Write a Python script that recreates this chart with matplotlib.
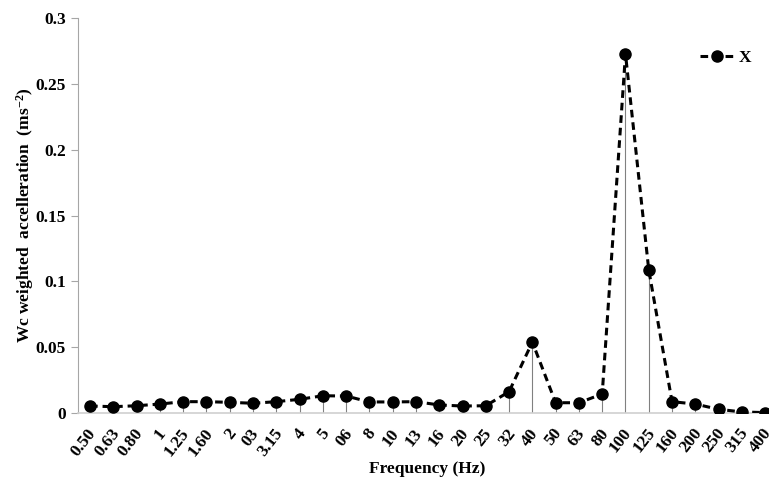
import numpy as np
import matplotlib.pyplot as plt
from matplotlib.transforms import ScaledTranslation

plt.rcParams['font.family'] = ['Liberation Serif', 'DejaVu Serif']
plt.rcParams['font.weight'] = 'bold'
plt.rcParams['mathtext.fontset'] = 'custom'
plt.rcParams['mathtext.rm'] = 'Liberation Serif:bold'
plt.rcParams['mathtext.bf'] = 'Liberation Serif:bold'
plt.rcParams['mathtext.default'] = 'bf'

freq_labels = ['0.50', '0.63', '0.80', '1', '1.25', '1.60', '2', '03', '3.15', '4',
               '5', '06', '8', '10', '13', '16', '20', '25', '32', '40',
               '50', '63', '80', '100', '125', '160', '200', '250', '315', '400']
accel_x = [0.0053, 0.0048, 0.0055, 0.0068, 0.0086, 0.0086, 0.0081, 0.0074, 0.0086, 0.0104,
           0.0131, 0.0129, 0.0084, 0.0084, 0.0086, 0.0061, 0.0053, 0.0055, 0.0162, 0.0539,
           0.0078, 0.0078, 0.0144, 0.2727, 0.1086, 0.0086, 0.0068, 0.0028, 0.0008, 0.0003]

x = np.arange(len(freq_labels))

fig = plt.figure(figsize=(7.69, 4.87), dpi=100)
ax = fig.add_axes([78.4 / 769, 74 / 487, 698.4 / 769, 395 / 487])

# drop lines down to the axis
ax.vlines(x, 0, accel_x, color='#808080', linewidth=0.8, zorder=1)

ax.plot(x, accel_x, color='black', linestyle=(0, (2.5, 1.6)), linewidth=2.2,
        marker='o', markersize=8, label='X', zorder=3)

ax.set_xlim(-0.5, len(freq_labels) - 0.5)
ax.set_ylim(0, 0.3)
ax.set_yticks([0, 0.05, 0.1, 0.15, 0.2, 0.25, 0.3])
ax.set_yticklabels(['0', '0.05', '0.1', '0.15', '0.2', '0.25', '0.3'], fontsize=12.5)
ax.set_xticks(x)
ax.set_xticklabels(freq_labels, rotation=52, ha='right', rotation_mode='anchor', fontsize=12.5)
ax.tick_params(axis='x', length=0, pad=9)
ax.tick_params(axis='y', length=5, color='#a6a6a6', width=0.8, pad=4)

# nudge the rotated labels a little left so the last one stays inside
shift = ScaledTranslation(-3 / 100, 0, fig.dpi_scale_trans)
for lbl in ax.get_xticklabels():
    lbl.set_transform(lbl.get_transform() + shift)

for side in ['top', 'right']:
    ax.spines[side].set_visible(False)
ax.spines['left'].set_color('#a6a6a6')
ax.spines['bottom'].set_color('#d0d0d0')
ax.spines['bottom'].set_linewidth(1.2)

ax.set_xlabel('Frequency (Hz)', fontsize=12.5, fontweight='bold', labelpad=1)
ax.set_ylabel('Wc weighted  accelleration  (ms$^{-2}$)', fontsize=12.5, fontweight='bold', labelpad=0)

ax.legend(loc='upper left', bbox_to_anchor=(606 / 698.4, 0.958), frameon=False,
          fontsize=12.5, handlelength=2.0, handletextpad=0.2)

fig.savefig('out.png', dpi=100)
